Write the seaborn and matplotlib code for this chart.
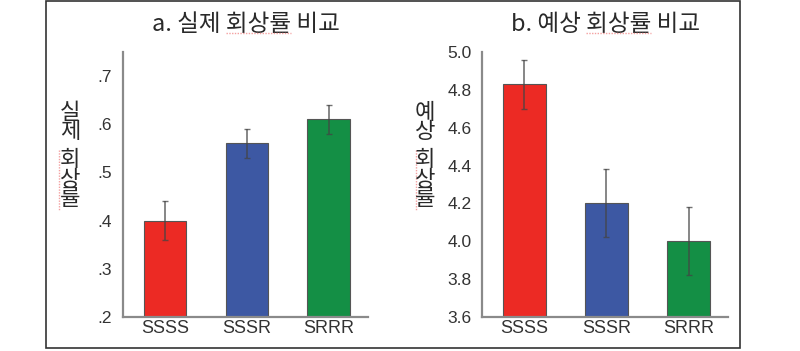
import matplotlib
matplotlib.use("Agg")
import matplotlib.pyplot as plt
import seaborn as sns
import pandas as pd
from matplotlib.patches import Rectangle
from matplotlib.lines import Line2D

# 조건
conditions = ["SSSS", "SSSR", "SRRR"]
bar_colors = ["#EC2A24", "#3D58A3", "#148F45"]

# a. 실제 회상률
actual_mean = [0.40, 0.56, 0.61]
actual_err = [0.04, 0.03, 0.03]
actual_ticks = [0.2, 0.3, 0.4, 0.5, 0.6, 0.7]
actual_ticklabels = [".2", ".3", ".4", ".5", ".6", ".7"]

# b. 예상 회상률
expected_mean = [4.83, 4.20, 4.00]
expected_err = [0.13, 0.18, 0.18]
expected_ticks = [3.6, 3.8, 4.0, 4.2, 4.4, 4.6, 4.8, 5.0]
expected_ticklabels = ["3.6", "3.8", "4.0", "4.2", "4.4", "4.6", "4.8", "5.0"]

sns.set_style("white")
plt.rcParams["font.family"] = ["Liberation Sans", "Noto Sans CJK KR", "DejaVu Sans"]

fig = plt.figure(figsize=(8, 3.51), dpi=100)
ax1 = fig.add_axes([0.154, 0.097, 0.306, 0.755])
ax2 = fig.add_axes([0.603, 0.097, 0.307, 0.755])

kor = ["Noto Sans CJK KR", "Liberation Sans"]
spine_col = "#8a8a8a"
text_col = "#2a2a2a"
squiggle = "#f4a0a0"
title_size = 17


def draw_panel(ax, means, errs, ticks, ticklabels, ylim, title):
    df = pd.DataFrame({"cond": conditions, "val": means})
    sns.barplot(data=df, x="cond", y="val", hue="cond", palette=bar_colors,
                width=0.52, errorbar=None, legend=False, ax=ax,
                edgecolor="#555555", linewidth=0.8, saturation=1)
    ax.errorbar(range(len(conditions)), means, yerr=errs, fmt="none",
                ecolor="#444444", alpha=0.75, elinewidth=1.2, capsize=2.5, capthick=1.0)
    ax.set_ylim(*ylim)
    ax.set_xlim(-0.51, 2.48)
    ax.set_yticks(ticks)
    ax.set_yticklabels(ticklabels)
    ax.set_xlabel("")
    ax.set_ylabel("")
    for s in ["top", "right"]:
        ax.spines[s].set_visible(False)
    for s in ["left", "bottom"]:
        ax.spines[s].set_color(spine_col)
        ax.spines[s].set_linewidth(1.6)
    ax.tick_params(axis="y", direction="out", length=5, width=1.2, color=spine_col,
                   labelsize=12.5, labelcolor="#333333", pad=3)
    ax.tick_params(axis="x", length=0, labelsize=13, labelcolor="#333333", pad=2)
    ax.set_title(title, family=kor, fontsize=title_size, color=text_col, pad=15)


draw_panel(ax1, actual_mean, actual_err, actual_ticks, actual_ticklabels,
           (0.2, 0.75), "a. 실제 회상률 비교")
draw_panel(ax2, expected_mean, expected_err, expected_ticks, expected_ticklabels,
           (3.6, 5.0), "b. 예상 회상률 비교")

# 세로 축 제목 (한 글자씩 세로로)
for x, top, bottom in [(0.0875, "실\n제", "회\n상\n률"), (0.531, "예\n상", "회\n상\n률")]:
    fig.text(x, 1 - 122 / 351, top, family=kor, fontsize=16, color=text_col,
             ha="center", va="center", linespacing=0.83)
    fig.text(x, 1 - 179 / 351, bottom, family=kor, fontsize=16, color=text_col,
             ha="center", va="center", linespacing=0.83)

# 맞춤법 검사 밑줄 (원본 캡처에 있는 빨간 점선) - 제목의 "회상률" 아래
fig.canvas.draw()
renderer = fig.canvas.get_renderer()
for ax, prefix in [(ax1, "a. 실제 "), (ax2, "b. 예상 ")]:
    bb = ax.title.get_window_extent(renderer)
    tmp = fig.text(0, 0, prefix, family=kor, fontsize=title_size)
    w0 = tmp.get_window_extent(renderer).width
    tmp.set_text(prefix + "회상률")
    w1 = tmp.get_window_extent(renderer).width
    tmp.remove()
    fig.add_artist(Line2D([(bb.x0 + w0) / 800, (bb.x0 + w1) / 800], [1 - 33 / 351] * 2,
                          color=squiggle, linewidth=1.0, linestyle=(0, (1, 1))))
for x in [59, 416]:
    fig.add_artist(Line2D([x / 800] * 2, [1 - 150 / 351, 1 - 210 / 351], color=squiggle,
                          linewidth=1.0, linestyle=(0, (1, 1))))

# 바깥 테두리
fig.patches.append(Rectangle((0.057, 0.008), 0.868, 0.988, transform=fig.transFigure,
                             fill=False, edgecolor="#333333", linewidth=1.2))

fig.savefig("out.png", dpi=100)
